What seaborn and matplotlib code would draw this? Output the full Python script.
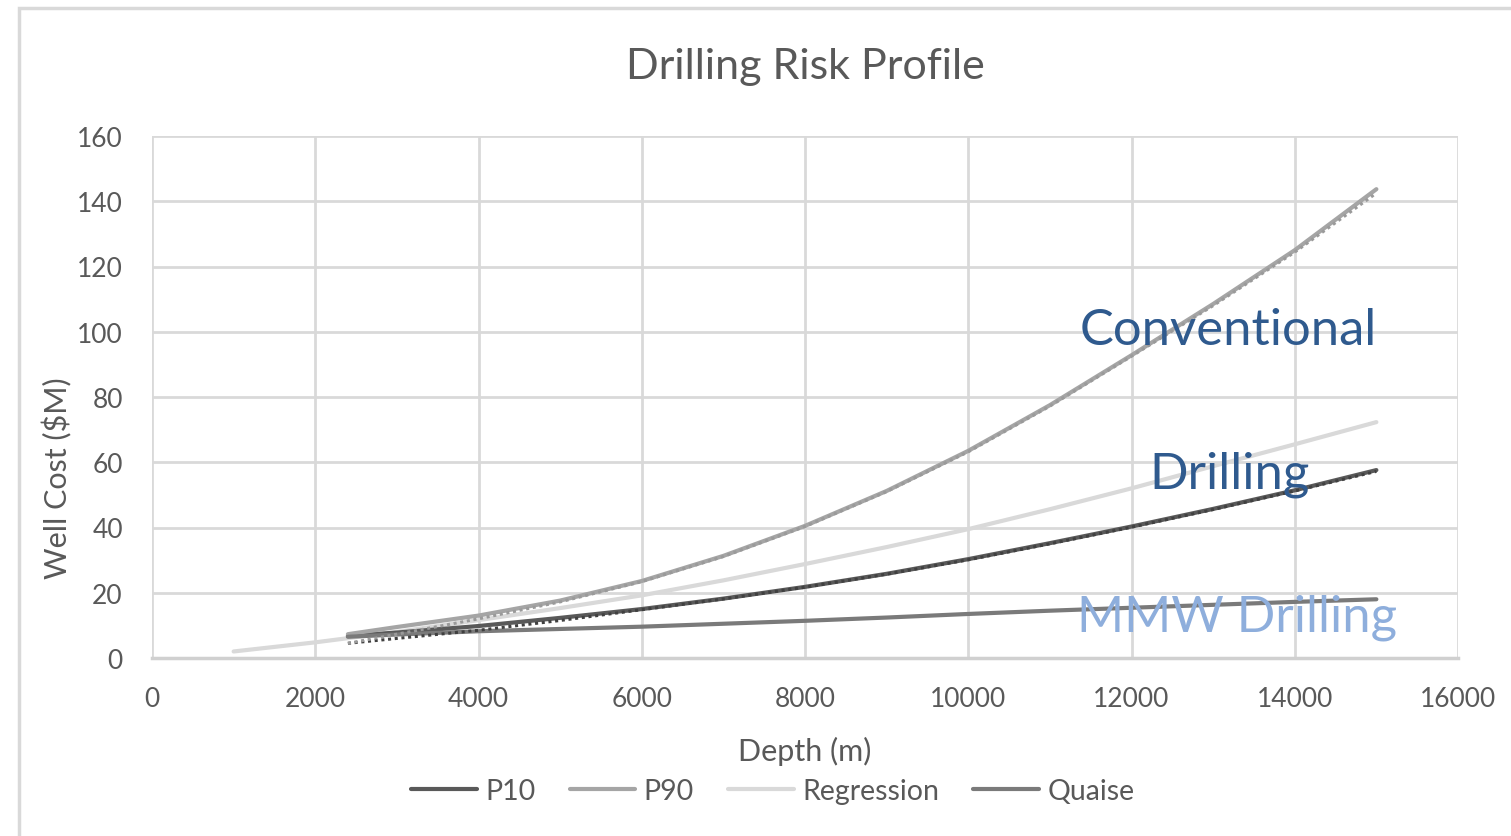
import matplotlib
matplotlib.use("Agg")
import matplotlib.pyplot as plt
from matplotlib.patches import Rectangle
from matplotlib.lines import Line2D
import seaborn as sns
import pandas as pd

# Well cost ($M) versus depth (m)
depth = [2400, 3000, 4000, 5000, 6000, 7000, 8000, 9000, 10000, 11000, 12000, 13000, 14000, 15000]
p10 = [6.8, 7.8, 9.8, 12.3, 15.0, 18.2, 21.8, 25.8, 30.3, 35.2, 40.3, 45.7, 51.4, 57.6]
p90 = [7.3, 9.5, 13.0, 17.6, 23.6, 31.3, 40.5, 51.2, 63.5, 77.5, 92.8, 108.5, 125.0, 143.7]
quaise = [6.5, 7.2, 8.2, 8.9, 9.6, 10.5, 11.4, 12.4, 13.5, 14.5, 15.4, 16.3, 17.2, 18.0]

reg_depth = [1000, 2000, 3000, 4000, 5000, 6000, 7000, 8000, 9000, 10000, 11000, 12000, 13000, 14000, 15000]
regression = [2.0, 4.8, 8.0, 11.6, 15.3, 19.2, 23.8, 28.8, 34.0, 39.5, 45.6, 52.0, 58.8, 65.5, 72.3]

# Dotted trend lines fitted to P10 and P90
p10_trend = [4.5, 6.0, 8.5, 11.5, 14.8, 18.1, 21.7, 25.7, 30.1, 35.0, 40.1, 45.5, 51.2, 57.2]
p90_trend = [4.5, 7.3, 12.0, 17.2, 23.4, 31.1, 40.3, 51.0, 63.2, 77.2, 92.5, 108.0, 124.4, 142.5]

series_names = ["P10", "P90", "Regression", "Quaise"]
x_ticks = list(range(0, 16001, 2000))
y_ticks = list(range(0, 161, 20))

sns.set_theme(style="white")
plt.rcParams["font.family"] = ["Lato", "DejaVu Sans"]

colors = {"P10": "#595959", "P90": "#A5A5A5", "Regression": "#D9D9D9", "Quaise": "#7A7A7A"}
text_grey = "#595959"

fig = plt.figure(figsize=(15.11, 8.37), dpi=100)
fig.patch.set_facecolor("white")
W, H = 1511, 837
fig.patches.append(Rectangle((19 / W, -0.1), 1.2, 1 - 9 / H + 0.1, transform=fig.transFigure,
                             fill=False, edgecolor="#D9D9D9", linewidth=2.5, zorder=0))

ax = fig.add_axes([152 / W, 1 - 659 / H, (1458 - 152) / W, (659 - 137) / H])

df_main = pd.DataFrame({"depth": depth, "P10": p10, "P90": p90, "Quaise": quaise})
df_reg = pd.DataFrame({"depth": reg_depth, "Regression": regression})

sns.lineplot(data=df_main, x="depth", y="P10", ax=ax, color=colors["P10"], lw=3, zorder=4)
sns.lineplot(data=df_main, x="depth", y="P90", ax=ax, color=colors["P90"], lw=3, zorder=4)
sns.lineplot(data=df_reg, x="depth", y="Regression", ax=ax, color=colors["Regression"], lw=3, zorder=3)
sns.lineplot(data=df_main, x="depth", y="Quaise", ax=ax, color=colors["Quaise"], lw=3, zorder=4)

df_trend = pd.DataFrame({"depth": depth, "p10t": p10_trend, "p90t": p90_trend})
sns.lineplot(data=df_trend, x="depth", y="p10t", ax=ax, color="#404040", lw=2.2,
             linestyle=(0, (1, 1.2)), zorder=5)
sns.lineplot(data=df_trend, x="depth", y="p90t", ax=ax, color="#9A9A9A", lw=2.2,
             linestyle=(0, (1, 1.2)), zorder=5)

ax.set_xlim(0, 16000)
ax.set_ylim(0, 160)
ax.set_xticks(x_ticks)
ax.set_yticks(y_ticks)
ax.set_xticklabels([str(v) for v in x_ticks])
ax.set_yticklabels([str(v) for v in y_ticks])
ax.grid(True, color="#D9D9D9", linewidth=2)
ax.set_axisbelow(True)
for name, sp in ax.spines.items():
    sp.set_visible(name == "bottom")
ax.spines["bottom"].set_color("#D0D0D0")
ax.spines["bottom"].set_linewidth(2.5)
ax.tick_params(axis="both", length=0, labelsize=19, colors=text_grey)
ax.tick_params(axis="y", pad=21)
ax.tick_params(axis="x", pad=20)

ax.set_xlabel("Depth (m)", fontsize=22, color=text_grey, labelpad=18)
ax.set_ylabel("Well Cost ($M)", fontsize=22, color=text_grey)
ax.yaxis.set_label_coords(-0.061, 0.347)

ax.set_title("Drilling Risk Profile", fontsize=31, color=text_grey, pad=42)

# Region labels
ax.text(13182, 96.3, "Conventional", fontsize=36.5, color="#2F5A8E", ha="center", va="baseline", zorder=6)
ax.text(13195, 52.4, "Drilling", fontsize=36.5, color="#2F5A8E", ha="center", va="baseline", zorder=6)
ax.text(13293, 8.3, "MMW Drilling", fontsize=36.5, color="#8EAEDC", ha="center", va="baseline", zorder=6)

handles = [Line2D([0], [0], color=colors[n], lw=3) for n in series_names]
leg = fig.legend(handles, series_names, loc="center", bbox_to_anchor=(773 / W, 1 - 792 / H),
                 ncol=4, frameon=False, fontsize=20.5, handlelength=2.3, handletextpad=0.3,
                 columnspacing=1.2)
for t in leg.get_texts():
    t.set_color(text_grey)

fig.savefig("out.png", dpi=100, facecolor="white")
